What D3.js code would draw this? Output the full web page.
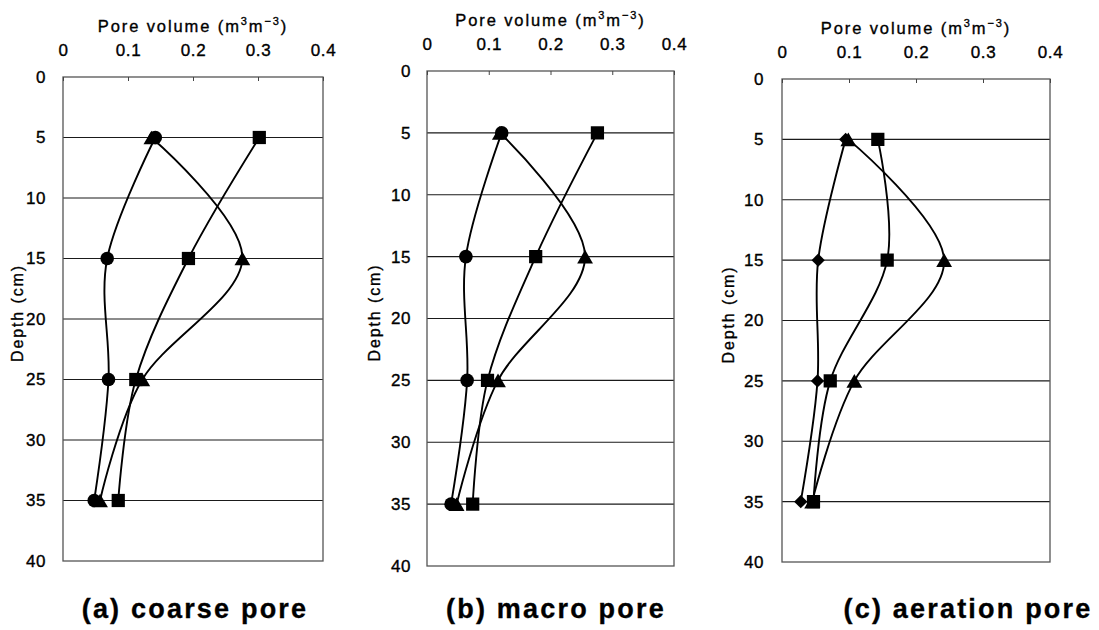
<!DOCTYPE html>
<html>
<head>
<meta charset="utf-8">
<script src="https://cdn.jsdelivr.net/npm/d3@7"></script>
<style>
  body { margin: 0; background: #fff; }
  svg { display: block; }
  text { font-family: "Liberation Sans", Arial, sans-serif; fill: #000; stroke: #000; stroke-width: 0.35px; }
</style>
</head>
<body>
<svg id="chart" width="1099" height="630"></svg>
<script>
// depths of the samples (cm)
const depths = [5, 15, 25, 35];
const xTicks = [0, 0.1, 0.2, 0.3, 0.4];
const yTicks = [0, 5, 10, 15, 20, 25, 30, 35, 40];
const panelTitles = ["(a) coarse pore", "(b) macro pore", "(c) aeration pore"];

// (a) coarse pore
const coarseCircle   = [0.142, 0.068, 0.070, 0.048];
const coarseTriangle = [0.136, 0.276, 0.122, 0.057];
const coarseSquare   = [0.302, 0.193, 0.112, 0.085];
// (b) macro pore
const macroCircle    = [0.121, 0.063, 0.065, 0.039];
const macroTriangle  = [0.118, 0.256, 0.115, 0.048];
const macroSquare    = [0.276, 0.176, 0.098, 0.074];
// (c) aeration pore
const aerationDiamond  = [0.095, 0.054, 0.053, 0.028];
const aerationTriangle = [0.099, 0.242, 0.108, 0.045];
const aerationSquare   = [0.143, 0.157, 0.072, 0.047];

// triangle centred on its box, like the spreadsheet marker
const boxTriangle = {
    draw(ctx, size) {
        const w = Math.sqrt(size * 4 / Math.sqrt(3));
        const h = w * Math.sqrt(3) / 2;
        ctx.moveTo(0, -h / 2);
        ctx.lineTo(w / 2, h / 2);
        ctx.lineTo(-w / 2, h / 2);
        ctx.closePath();
    }
};
const diamond = {
    draw(ctx, size) {
        const r = Math.sqrt(size / 2);
        ctx.moveTo(0, -r);
        ctx.lineTo(r, 0);
        ctx.lineTo(0, r);
        ctx.lineTo(-r, 0);
        ctx.closePath();
    }
};
const markers = {
    circle:   { type: d3.symbolCircle, size: 145 },
    square:   { type: d3.symbolSquare, size: 175 },
    triangle: { type: boxTriangle, size: 108 },
    diamond:  { type: diamond, size: 88 }
};

const tickFmt = d => d === 0 ? '0' : d3.format('.1f')(d);

class DepthProfile {
    constructor(config, series) {
        this.config = config;
        this.series = series;
        this.init();
    }

    init() {
        let self = this;
        const c = self.config;
        self.g = d3.select(c.parent).append('g');

        self.xscale = d3.scaleLinear().domain([0, 0.4]).range([c.left, c.right]);
        self.yscale = d3.scaleLinear().domain([0, 40]).range([c.top, c.bottom]);
        self.render();
    }

    render() {
        let self = this;
        const c = self.config;

        // horizontal grid
        self.g.append('g')
            .selectAll('line')
            .data(yTicks.filter(d => d > 0 && d < 40))
            .join('line')
            .attr('x1', c.left).attr('x2', c.right)
            .attr('y1', d => self.yscale(d)).attr('y2', d => self.yscale(d))
            .attr('stroke', '#1a1a1a')
            .attr('stroke-width', 1.1);

        // frame
        self.g.append('rect')
            .attr('x', c.left).attr('y', c.top)
            .attr('width', c.right - c.left).attr('height', c.bottom - c.top)
            .attr('fill', 'none')
            .attr('stroke', '#555')
            .attr('stroke-width', 1.3);

        const xaxis = d3.axisTop(self.xscale)
            .tickValues(xTicks)
            .tickFormat(tickFmt)
            .tickSizeInner(-4)
            .tickSizeOuter(0)
            .tickPadding(21);
        const xg = self.g.append('g')
            .attr('transform', `translate(0, ${c.top})`)
            .call(xaxis);
        xg.select('.domain').remove();
        xg.selectAll('.tick line').attr('stroke', '#444');
        xg.selectAll('.tick text')
            .attr('font-size', 17)
            .style('letter-spacing', '0.6px')
            .attr('font-family', '"Liberation Sans", Arial, sans-serif')
            .attr('fill', '#000');

        const yaxis = d3.axisLeft(self.yscale)
            .tickValues(yTicks)
            .tickSize(0)
            .tickPadding(c.ypad);
        const yg = self.g.append('g')
            .attr('transform', `translate(${c.left}, 0)`)
            .call(yaxis);
        yg.select('.domain').remove();
        yg.selectAll('.tick text')
            .attr('font-size', 17)
            .style('letter-spacing', '0.6px')
            .attr('font-family', '"Liberation Sans", Arial, sans-serif')
            .attr('fill', '#000');

        // x title with superscripts
        const xt = self.g.append('text')
            .attr('x', (c.left + c.right) / 2)
            .attr('y', c.top - 45)
            .attr('text-anchor', 'middle')
            .attr('font-size', 16.5)
            .style('letter-spacing', '1.9px');
        xt.append('tspan').text('Pore volume (m');
        xt.append('tspan').attr('dy', -7).attr('font-size', 11).text('3');
        xt.append('tspan').attr('dy', 7).text('m');
        xt.append('tspan').attr('dy', -7).attr('font-size', 11).text('\u22123');
        xt.append('tspan').attr('dy', 7).text(')');

        // y title
        self.g.append('text')
            .attr('transform', `translate(${c.left + c.ylab}, ${(c.top + c.bottom) / 2 - 6}) rotate(-90)`)
            .attr('text-anchor', 'middle')
            .attr('font-size', 16)
            .style('letter-spacing', '1.9px')
            .text('Depth (cm)');

        // series lines
        const line = d3.line()
            .x(d => self.xscale(d.v))
            .y(d => self.yscale(d.depth))
            .curve(d3.curveCardinal.tension(0));

        self.series.forEach(s => {
            const pts = depths.map((depth, i) => ({ depth: depth, v: s.values[i] }));
            self.g.append('path')
                .attr('d', line(pts))
                .attr('fill', 'none')
                .attr('stroke', '#000')
                .attr('stroke-width', 1.9);
        });

        self.series.forEach(s => {
            const m = markers[s.marker];
            const sym = d3.symbol().type(m.type).size(m.size);
            self.g.append('g')
                .selectAll('path')
                .data(depths.map((depth, i) => ({ depth: depth, v: s.values[i] })))
                .join('path')
                .attr('d', sym)
                .attr('transform', d => `translate(${self.xscale(d.v)}, ${self.yscale(d.depth)})`)
                .attr('fill', '#000');
        });

        // panel caption
        self.g.append('text')
            .attr('x', c.titleX)
            .attr('y', 618)
            .attr('text-anchor', 'middle')
            .attr('font-size', 27)
            .attr('font-weight', 'bold')
            .style('letter-spacing', '2.2px')
            .text(c.title);
    }
}

const svg = '#chart';

new DepthProfile({
    parent: svg, left: 63, right: 323, top: 77, bottom: 561,
    ypad: 17, ylab: -40, titleX: 195, title: panelTitles[0]
}, [
    { marker: 'circle', values: coarseCircle },
    { marker: 'square', values: coarseSquare },
    { marker: 'triangle', values: coarseTriangle }
]);

new DepthProfile({
    parent: svg, left: 427, right: 674, top: 71, bottom: 566,
    ypad: 16, ylab: -47, titleX: 556, title: panelTitles[1]
}, [
    { marker: 'circle', values: macroCircle },
    { marker: 'square', values: macroSquare },
    { marker: 'triangle', values: macroTriangle }
]);

new DepthProfile({
    parent: svg, left: 782, right: 1050, top: 79, bottom: 562,
    ypad: 18, ylab: -48, titleX: 968, title: panelTitles[2]
}, [
    { marker: 'diamond', values: aerationDiamond },
    { marker: 'square', values: aerationSquare },
    { marker: 'triangle', values: aerationTriangle }
]);
</script>
</body>
</html>
